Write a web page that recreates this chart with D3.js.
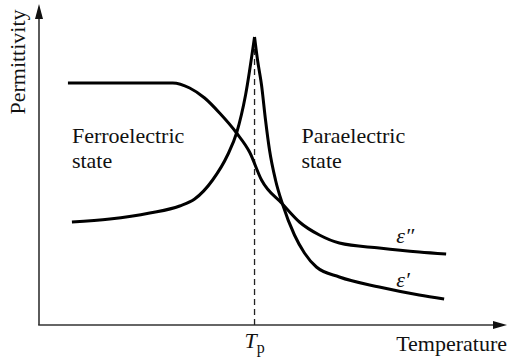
<!DOCTYPE html>
<html>
<head>
<meta charset="utf-8">
<script src="https://cdn.jsdelivr.net/npm/d3@7"></script>
</head>
<body style="margin:0">
<div class="chart-container"></div>
<script>
// --- Data (arbitrary units: temperature along x, permittivity along y) ---
// step curve (eps'') : flat in ferroelectric state, drops past Tp, levels off
const stepT   = [29, 81, 134, 151, 166, 181, 198, 211, 223, 244, 261, 281, 301, 341, 381, 408];
const stepEps = [242, 242, 242, 237, 227, 212, 192, 173, 145, 121, 103, 90, 82, 77, 73, 71];

// peak curve (eps') : rises to a cusp at Tp, then falls off
const riseT   = [33, 71, 111, 141, 156, 174, 189, 198, 207, 216];
const riseEps = [103, 106, 112, 119, 126, 145, 170, 192, 230, 288];
const fallT   = [216, 219, 223, 227, 231, 237, 244, 256, 266, 278, 301, 341, 381, 406];
const fallEps = [288, 265, 240, 205, 175, 145, 121, 90, 72, 58, 48, 38, 30, 26];

const peakT = 216;   // Tp position on the temperature axis
const yTitle = "Permittivity";
const xTitle = "Temperature";
const leftLabel = ["Ferroelectric", "state"];
const rightLabel = ["Paraelectric", "state"];

const FONT = '"Liberation Serif"';

const dimensions = {
    width: 508,
    height: 361,
    margin: { top: 5, right: 0, bottom: 36, left: 39 }
}

const xScale = d3.scaleLinear()
    .domain([0, 469])
    .range([dimensions.margin.left, dimensions.width - 1]);

const yScale = d3.scaleLinear()
    .domain([0, 320])
    .range([dimensions.height - dimensions.margin.bottom, dimensions.margin.top]);

const svg = d3.select(".chart-container").append("svg")
    .attr("width", dimensions.width)
    .attr("height", dimensions.height)
    .style("font-family", FONT);

// --- TEXT (drawn first) ---
function addText(x, y) {
    return svg.append("text")
        .attr("x", x).attr("y", y)
        .style("font-family", FONT)
        .style("font-size", "22px")
        .attr("fill", "#111");
}

addText(0, 0)
    .attr("transform", "translate(25, 62) rotate(-90)")
    .attr("text-anchor", "middle")
    .text(yTitle);

addText(dimensions.width - 1, 351)
    .attr("text-anchor", "end")
    .text(xTitle);

const tp = addText(xScale(peakT) - 10, 348);
tp.append("tspan").style("font-style", "italic").text("T");
tp.append("tspan").attr("dy", 5).style("font-size", "16px").text("p");

function block(lines, x, y) {
    const t = addText(x, y);
    t.selectAll("tspan")
        .data(lines)
        .enter()
        .append("tspan")
        .attr("x", x)
        .attr("dy", (d, i) => i === 0 ? 0 : 25)
        .text(d => d);
}
block(leftLabel, xScale(33), 143);
block(rightLabel, xScale(263), 143);

// series labels
addText(xScale(358), 243)
    .style("font-style", "italic")
    .text("ε\u2033");
addText(xScale(358), 287)
    .style("font-style", "italic")
    .text("ε\u2032");

const x0 = xScale(0), y0 = yScale(0);

// --- AXES with arrow heads ---
svg.append("line")
    .attr("x1", x0).attr("y1", y0)
    .attr("x2", x0).attr("y2", yScale(306))
    .attr("stroke", "#333").attr("stroke-width", 1.6);
svg.append("path")
    .attr("d", `M${x0},${yScale(321)} L${x0 - 4},${yScale(306)} L${x0 + 4},${yScale(306)} Z`)
    .attr("fill", "#111");

svg.append("line")
    .attr("x1", x0 - 0.8).attr("y1", y0)
    .attr("x2", xScale(456)).attr("y2", y0)
    .attr("stroke", "#333").attr("stroke-width", 1.6);
svg.append("path")
    .attr("d", `M${xScale(469)},${y0} L${xScale(455)},${y0 - 4} L${xScale(455)},${y0 + 4} Z`)
    .attr("fill", "#111");

// Tp dashed marker
svg.append("line")
    .attr("x1", xScale(peakT)).attr("y1", y0)
    .attr("x2", xScale(peakT)).attr("y2", yScale(280))
    .attr("stroke", "#222").attr("stroke-width", 1.3)
    .attr("stroke-dasharray", "6,4");

// --- CURVES ---
const line = d3.line()
    .x(d => xScale(d[0]))
    .y(d => yScale(d[1]))
    .curve(d3.curveMonotoneX);

const branches = [
    d3.zip(stepT, stepEps),
    d3.zip(riseT, riseEps),
    d3.zip(fallT, fallEps)
];

svg.selectAll(".curve")
    .data(branches)
    .enter()
    .append("path")
    .attr("class", "curve")
    .attr("d", line)
    .attr("fill", "none")
    .attr("stroke", "#000")
    .attr("stroke-width", 3);
</script>
</body>
</html>
